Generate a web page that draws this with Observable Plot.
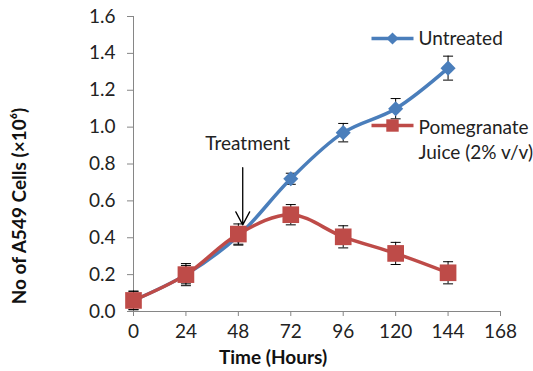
<!DOCTYPE html>
<html><head><meta charset="utf-8">
<script src="https://cdn.jsdelivr.net/npm/d3@7"></script>
<script src="https://cdn.jsdelivr.net/npm/@observablehq/plot@0.6"></script>
<style>body{margin:0;background:#fff}</style>
</head><body><div id="chart"></div>
<script>
const hours = [0, 24, 48, 72, 96, 120, 144];
const untreated = [0.06, 0.20, 0.41, 0.72, 0.97, 1.10, 1.32];
const untreatedErr = [0.05, 0.05, 0.05, 0.03, 0.05, 0.055, 0.065];
const juice = [0.06, 0.20, 0.42, 0.525, 0.405, 0.315, 0.21];
const juiceErr = [0.05, 0.06, 0.055, 0.055, 0.06, 0.06, 0.06];
const xTicks = [0, 24, 48, 72, 96, 120, 144, 168];
const yTicks = [0, 0.2, 0.4, 0.6, 0.8, 1.0, 1.2, 1.4, 1.6];
const seriesNames = ["Untreated", "Pomegranate\nJuice (2% v/v)"];
const xTitle = "Time (Hours)";
const yTitle = "No of A549 Cells (×10⁶)";
const treatment = [{label: "Treatment", hour: 50, from: 0.78, to: 0.47}];

const blue = "#4a7ebb", red = "#be4b48", axisGray = "#868686";
const rowsU = hours.map((h, i) => ({h, v: untreated[i], e: untreatedErr[i]}));
const rowsJ = hours.map((h, i) => ({h, v: juice[i], e: juiceErr[i]}));
const cap = {draw(ctx) { ctx.moveTo(-5, 0); ctx.lineTo(5, 0); }};
const seg = {draw(ctx) { ctx.moveTo(-21, 0); ctx.lineTo(21, 0); }};

function series(rows, color, symbol, r) {
  return [
    Plot.ruleX(rows, {x: "h", y1: d => d.v - d.e, y2: d => d.v + d.e, stroke: "black", strokeWidth: 1}),
    Plot.dot(rows, {x: "h", y: d => d.v + d.e, symbol: cap, stroke: "black", strokeWidth: 1, fill: "none"}),
    Plot.dot(rows, {x: "h", y: d => d.v - d.e, symbol: cap, stroke: "black", strokeWidth: 1, fill: "none"}),
    Plot.line(rows, {x: "h", y: "v", stroke: color, strokeWidth: 3.5, curve: "catmull-rom"}),
    Plot.dot(rows, {x: "h", y: "v", symbol, r, fill: color, stroke: "none"})
  ];
}

const chart = Plot.plot({
  width: 533, height: 371,
  marginLeft: 133, marginRight: 33, marginTop: 16, marginBottom: 60,
  style: {fontFamily: "Lato, sans-serif", fontSize: "19px", color: "#222", background: "#fff"},
  x: {domain: [0, 168]},
  y: {domain: [0, 1.6]},
  marks: [
    Plot.axisY({ticks: yTicks, tickFormat: d3.format(".1f"), tickSize: 6, tickPadding: 12, stroke: axisGray, label: null}),
    Plot.axisX({ticks: xTicks, tickSize: 5, tickPadding: 8, stroke: axisGray, label: null}),
    Plot.ruleX([0], {stroke: axisGray}),
    Plot.ruleY([0], {stroke: axisGray}),
    ...series(rowsU, blue, "diamond2", 6.8),
    ...series(rowsJ, red, "square", 9.4),
    Plot.arrow(treatment, {x: "hour", y1: "from", y2: "to", stroke: "black", strokeWidth: 1.3, headLength: 17, headAngle: 56}),
    Plot.text(treatment, {x: "hour", y: d => d.from, text: "label", dy: -24, dx: 5, fill: "#222"}),
    // legend
    Plot.dot([seriesNames[0]], {frameAnchor: "top-left", dx: 259, dy: 22, symbol: seg, stroke: blue, strokeWidth: 3.5}),
    Plot.dot([seriesNames[0]], {frameAnchor: "top-left", dx: 259, dy: 22, symbol: "diamond2", r: 5.5, fill: blue}),
    Plot.text([seriesNames[0]], {frameAnchor: "top-left", dx: 285, dy: 22, text: d => d, textAnchor: "start", lineAnchor: "middle", fill: "#222"}),
    Plot.dot([seriesNames[1]], {frameAnchor: "top-left", dx: 259, dy: 109, symbol: seg, stroke: red, strokeWidth: 3.5}),
    Plot.dot([seriesNames[1]], {frameAnchor: "top-left", dx: 259, dy: 109, symbol: "square", r: 7, fill: red}),
    Plot.text([seriesNames[1]], {frameAnchor: "top-left", dx: 285, dy: 121.5, text: d => d, textAnchor: "start", lineAnchor: "middle", lineHeight: 1.32, fill: "#222"}),
    // axis titles
    Plot.text([xTitle], {frameAnchor: "bottom", dx: -44, dy: 46, text: d => d, lineAnchor: "middle", fontWeight: "bold", fill: "#111"}),
    Plot.text([yTitle], {frameAnchor: "left", dx: -114, dy: 42, rotate: -90, text: d => d, textAnchor: "middle", lineAnchor: "middle", fontWeight: "bold", fill: "#111"})
  ]
});
document.getElementById("chart").append(chart);
</script>
</body></html>
